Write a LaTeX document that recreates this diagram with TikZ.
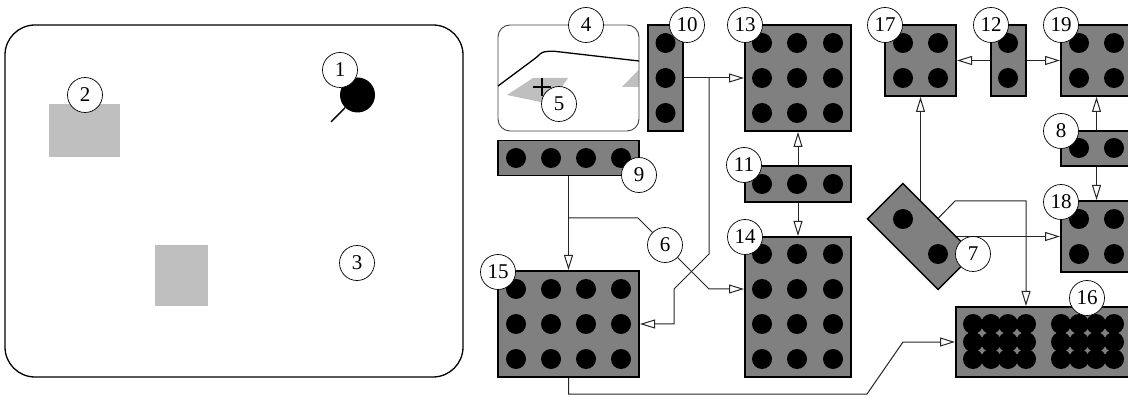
\documentclass[tikz,border=0pt]{standalone}
\usepackage{fontspec}
\setmainfont{Liberation Serif}
\usetikzlibrary{arrows.meta,backgrounds}
\tikzset{
  x=1pt,y=-1pt,
  panelbox/.style={draw=black,line width=1.3pt,rounded corners=30pt},
  viewbox/.style={draw=black!75,line width=0.9pt,rounded corners=12pt},
  graybox/.style={draw=black,fill=black!50,line width=1.4pt,inner sep=0pt,outer sep=0pt,anchor=center},
  spot/.style={circle,fill=black,inner sep=0pt,outer sep=0pt,minimum size=20pt},
  tag/.style={circle,draw=black,fill=white,line width=0.7pt,inner sep=0pt,outer sep=0pt,minimum size=35pt,font=\fontsize{21}{21}\selectfont},
  shade/.style={fill=black!25,draw=none},
  conn/.style={draw=black!85,line width=1pt,-{Triangle[fill=white,length=15pt,width=9pt,line width=1pt]},shorten >=1pt},
  plainconn/.style={draw=black!85,line width=1pt},
}
\begin{document}
\begin{tikzpicture}
\clip (0,0) rectangle (1128,398);
\useasboundingbox (0,0) rectangle (1128,398);
% left panel
\node[panelbox,minimum width=458pt,minimum height=352pt,inner sep=0pt,outer sep=0pt] (panel) at (234,201) {};
\fill[shade] (49,104) rectangle (120,157);
\fill[shade] (155,245) rectangle (208,306);
\node[spot,minimum size=35pt] (ball) at (357.5,95) {};
\coordinate (balltail) at (331,122);
\draw[line width=1.4pt] (ball) -- (balltail);
% view panel
\fill[shade] (507,95) -- (533,78) -- (568,78) -- (550,104) -- cycle;
\fill[shade] (622,87) -- (638.5,70) -- (638.5,87) -- cycle;
\node[viewbox,minimum width=141pt,minimum height=106pt,inner sep=0pt,outer sep=0pt] (view) at (568.5,78) {};
\draw[line width=1.3pt,rounded corners=3pt] (498,86) -- (537,57) -- (542,52) -- (552,51) -- (639,61);
\draw[line width=1.1pt] (533,87) -- (551,87) (542,78) -- (542,96);
% boxes
\node[graybox,minimum width=35pt,minimum height=106pt] (b10) at (665.5,78) {};
\node[graybox,minimum width=141pt,minimum height=35pt] (b9) at (568.5,158) {};
\node[graybox,minimum width=106pt,minimum height=106pt] (b13) at (798,78) {};
\node[graybox,minimum width=106pt,minimum height=36pt] (b11) at (798,184) {};
\node[graybox,minimum width=106pt,minimum height=140pt] (b14) at (798,307) {};
\node[graybox,minimum width=141pt,minimum height=106pt] (b15) at (568.5,324) {};
\node[graybox,minimum width=71pt,minimum height=71pt] (b17) at (920.5,60.5) {};
\node[graybox,minimum width=35pt,minimum height=71pt] (b12) at (1008.5,60.5) {};
\node[graybox,minimum width=71pt,minimum height=71pt] (b19) at (1096.5,60.5) {};
\node[graybox,minimum width=71pt,minimum height=35pt] (b8) at (1096.5,148.5) {};
\node[graybox,minimum width=71pt,minimum height=71pt] (b18) at (1096.5,236.5) {};
\node[graybox,minimum width=176pt,minimum height=70pt] (b16) at (1044,342) {};
\node[graybox,minimum width=100pt,minimum height=50pt,rotate=-45] (b7) at (920.5,236.5) {};
% spots
\foreach \y in {43,78,113} \node[spot] (s10-\y) at (665.5,\y) {};
\foreach \x in {516,551,586,621} \node[spot] (s9-\x) at (\x,158) {};
\foreach \x in {762,797,833} \foreach \y in {43,78,113} \node[spot] (s13-\x-\y) at (\x,\y) {};
\foreach \x in {762,797,833} \node[spot] (s11-\x) at (\x,184) {};
\foreach \x in {762,797,833} \foreach \y in {254,289,324,359} \node[spot] (s14-\x-\y) at (\x,\y) {};
\foreach \x in {516,551,586,621} \foreach \y in {289,324,359} \node[spot] (s15-\x-\y) at (\x,\y) {};
\foreach \x in {903,938} \foreach \y in {43,78} \node[spot] (s17-\x-\y) at (\x,\y) {};
\foreach \y in {43,78} \node[spot] (s12-\y) at (1008,\y) {};
\foreach \x in {1079,1114} \foreach \y in {43,78} \node[spot] (s19-\x-\y) at (\x,\y) {};
\foreach \x in {1079,1114} \node[spot] (s8-\x) at (\x,148) {};
\foreach \x in {1079,1114} \foreach \y in {219,254} \node[spot] (s18-\x-\y) at (\x,\y) {};
\foreach \x in {973,991,1008,1026,1061,1079,1096,1114} \foreach \y in {324,342,359} \node[spot] (s16-\x-\y) at (\x,\y) {};
\node[spot] (s7a) at (903,219) {};
\node[spot] (s7b) at (938,254) {};
% labels
\node[tag] (l1) at (340,70) {1};
\node[tag] (l2) at (85,95) {2};
\node[tag] (l3) at (357,263) {3};
\node[tag] (l4) at (586,25) {4};
\node[tag] (l5) at (559,104) {5};
\node[tag] (l6) at (665,245) {6};
\node[tag] (l7) at (973,254) {7};
\node[tag] (l8) at (1061,131) {8};
\node[tag] (l9) at (639,175) {9};
\node[tag] (l10) at (687,25) {10};
\node[tag] (l11) at (744,165) {11};
\node[tag] (l12) at (991,25) {12};
\node[tag] (l13) at (745,25) {13};
\node[tag] (l14) at (745,237) {14};
\node[tag] (l15) at (498,272) {15};
\node[tag] (l16) at (1087,298) {16};
\node[tag] (l17) at (885,25) {17};
\node[tag] (l18) at (1061,202) {18};
\node[tag] (l19) at (1061,25) {19};
% connector waypoints
\coordinate (j10) at (709,78);
\coordinate (w1) at (709,254);
\coordinate (w2) at (674,289);
\coordinate (w3) at (674,324);
\coordinate (j9) at (568.5,218);
\coordinate (w4) at (638,218);
\coordinate (w5) at (709,289);
\coordinate (in14) at (745,289);
\coordinate (w6) at (568.5,394);
\coordinate (w7) at (867,394);
\coordinate (w8) at (903,342);
\coordinate (w9) at (955,201);
\coordinate (w10) at (1026,201);
\coordinate (in16) at (1026,307);
\begin{pgfonlayer}{background}
\draw[conn] (b10.east) -- (b13.west);
\draw[conn] (j10) -- (w1) -- (w2) -- (w3) -- (b15.east);
\draw[conn] (b9.south) -- (b15.north);
\draw[plainconn] (j9) -- (w4) -- (l6);
\draw[conn] (l6) -- (w5) -- (in14);
\draw[conn] (b15.south) -- (w6) -- (w7) -- (w8) -- (b16.west);
\draw[conn] (b11.north) -- (b13.south);
\draw[conn] (b11.south) -- (b14.north);
\draw[conn] (b12.west) -- (b17.east);
\draw[conn] (b12.east) -- (b19.west);
\draw[conn] (b7.center) -- (b17.south);
\draw[conn] (b7.center) -- (b18.west);
\draw[conn] (b7.center) -- (w9) -- (w10) -- (in16);
\draw[conn] (b8.north) -- (b19.south);
\draw[conn] (b8.south) -- (b18.north);
\end{pgfonlayer}
\end{tikzpicture}
\end{document}
